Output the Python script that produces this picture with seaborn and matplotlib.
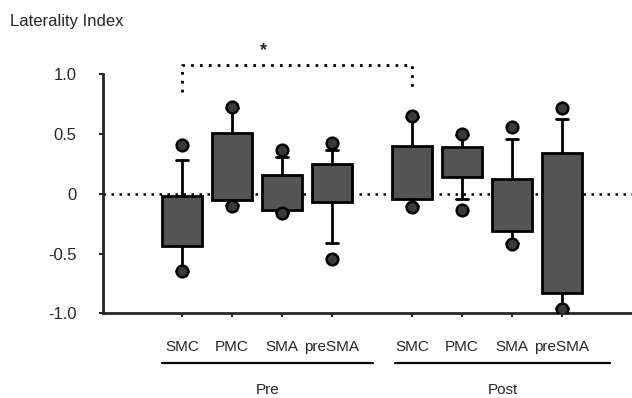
import numpy as np
import pandas as pd
import matplotlib.pyplot as plt
import seaborn as sns

# values (laterality index)
regions = ["SMC", "PMC", "SMA", "preSMA"]
sessions = ["Pre", "Post"]
positions = [0, 1, 2, 3, 4.6, 5.6, 6.6, 7.6]

box_low = [-0.44, -0.055, -0.135, -0.07, -0.04, 0.14, -0.31, -0.83]
box_high = [-0.015, 0.51, 0.155, 0.25, 0.40, 0.395, 0.12, 0.34]
whisker_low = [-0.65, -0.09, -0.15, -0.415, -0.10, -0.04, -0.41, -0.96]
whisker_high = [0.285, 0.72, 0.31, 0.37, 0.64, 0.49, 0.455, 0.63]
point_min = [-0.65, -0.10, -0.16, -0.545, -0.107, -0.135, -0.42, -0.965]
point_max = [0.405, 0.73, 0.37, 0.425, 0.65, 0.50, 0.56, 0.715]

sns.set_style("ticks")
plt.rcParams["font.family"] = ["Liberation Sans", "DejaVu Sans"]

fig = plt.figure(figsize=(6.32, 3.98), dpi=100)
ax = fig.add_axes([0.163, 0.213, 0.837, 0.690])

# zero reference line
ax.axhline(0, color="black", lw=1.8, ls=(0, (1, 2.2)), zorder=1)

stats = []
for lo, hi, wl, wh in zip(box_low, box_high, whisker_low, whisker_high):
    # median is not visible in the original, so it is drawn with no width
    stats.append(dict(q1=lo, q3=hi, med=lo, whislo=wl, whishi=wh, fliers=[]))

ax.bxp(stats, positions=positions, widths=0.8, capwidths=0.25,
       patch_artist=True, showfliers=False,
       boxprops=dict(facecolor="#545454", edgecolor="black", linewidth=2),
       whiskerprops=dict(color="black", linewidth=2),
       capprops=dict(color="black", linewidth=2),
       medianprops=dict(linewidth=0))

pts = pd.DataFrame({"x": positions * 2, "value": point_min + point_max})
sns.scatterplot(data=pts, x="x", y="value", ax=ax, s=70, color="#3a3a3a",
                edgecolor="black", linewidth=1.8, zorder=4, legend=False)

# significance bracket Pre SMC vs Post SMC
ax.plot([positions[0], positions[0], positions[4], positions[4]],
        [0.85, 1.08, 1.08, 0.85], color="black", lw=2,
        ls=(0, (1, 2.2)), clip_on=False)
ax.text((positions[0] + positions[4]) / 2 - 0.68, 1.13, "*", ha="center",
        va="bottom", fontsize=13, fontweight="bold")

ax.set_xlim(-1.58, 9.0)
ax.set_ylim(-1.0, 1.3)
ax.set_yticks([-1.0, -0.5, 0, 0.5, 1.0])
ax.set_yticklabels(["-1.0", "-0.5", "0", "0.5", "1.0"])
ax.set_xticks(positions)
ax.set_xticklabels(regions * 2)
ax.set_xlabel("")
ax.set_ylabel("")
ax.tick_params(axis="y", length=3, width=1.5, pad=16, labelsize=12)
ax.tick_params(axis="x", length=3, width=1.5, pad=16, labelsize=11)

sns.despine(ax=ax)
ax.spines["left"].set_bounds(-1.0, 1.0)
ax.spines["left"].set_linewidth(2)
ax.spines["bottom"].set_linewidth(2)

# session underlines and labels
trans = ax.get_xaxis_transform()
for name, x0, x1 in zip(sessions, [-0.4, 4.26], [3.82, 8.56]):
    ax.plot([x0, x1], [-0.182, -0.182], color="black", lw=1.6,
            transform=trans, clip_on=False)
    ax.text((x0 + x1) / 2, -0.28, name, ha="center", va="center",
            fontsize=11, transform=trans)

fig.text(0.016, 0.947, "Laterality Index", ha="left", va="center", fontsize=12)

fig.savefig("out.png", dpi=100)
